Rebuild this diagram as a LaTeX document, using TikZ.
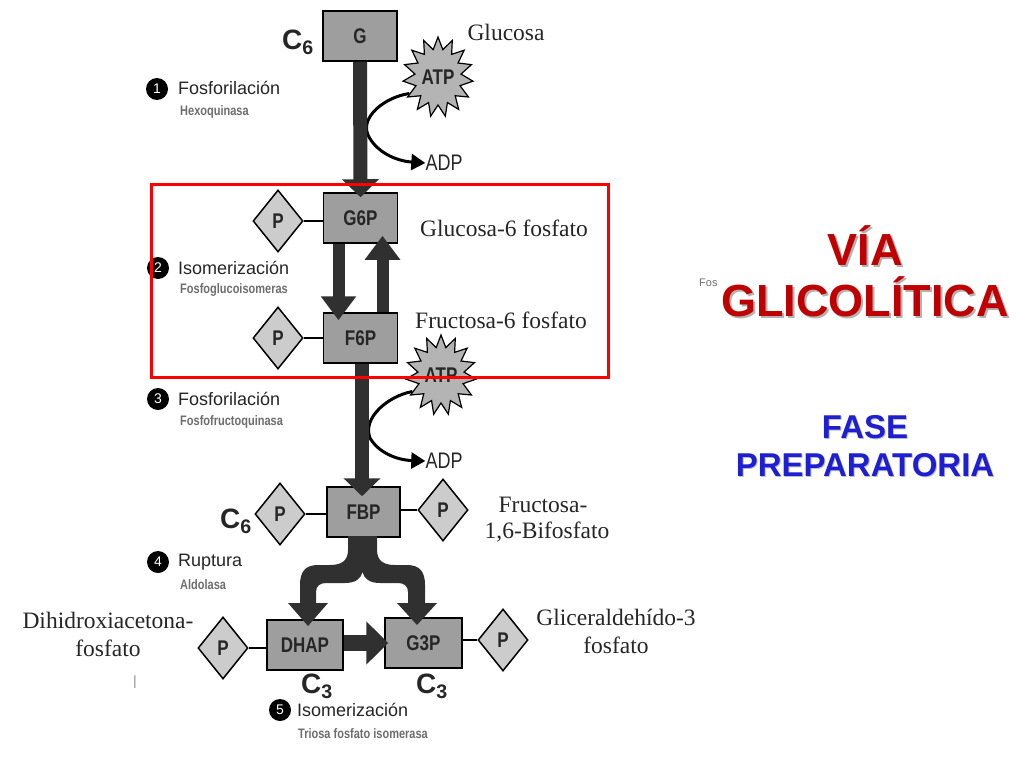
\documentclass[tikz,border=0pt]{standalone}
\usepackage{fontspec}
\usepackage{graphicx}
\setmainfont{Liberation Serif}
\setsansfont{Liberation Sans}
\usetikzlibrary{shapes.geometric,shapes.symbols,arrows.meta}
\definecolor{boxgray}{RGB}{158,158,158}
\definecolor{diagray}{RGB}{204,204,204}
\definecolor{arrowgray}{RGB}{48,48,48}
\definecolor{atpgray}{RGB}{180,180,180}
\definecolor{enzgray}{RGB}{110,110,110}
\definecolor{vred}{RGB}{192,0,0}
\definecolor{vblue}{RGB}{30,30,210}
\definecolor{frame}{RGB}{255,0,0}
\newcommand{\fsz}[1]{\fontsize{#1}{#1}\selectfont}
\newcommand{\tall}[1]{\scalebox{1}[1.25]{#1}}
\tikzset{
  mbox/.style={draw=black, line width=1.5pt, fill=boxgray, minimum width=74pt, minimum height=50pt, inner sep=0pt, font=\sffamily\bfseries\fsz{17}, text=black!85},
  pdiam/.style={diamond, draw=black, line width=1.5pt, fill=diagray, minimum width=50pt, minimum height=62pt, inner sep=0pt, font=\sffamily\bfseries\fsz{17}, text=black!85},
  plink/.style={draw=black, line width=1.5pt},
  fat/.style={draw=arrowgray, line width=14pt, -{Triangle[width=36pt,length=18pt]}},
  med/.style={draw=arrowgray, line width=12pt, -{Triangle[width=34pt,length=24pt]}},
  atpstar/.style={starburst, starburst points=15, starburst point height=12pt, random starburst=0, draw=black, line width=1.2pt, fill=atpgray, minimum width=70pt, minimum height=80pt, inner sep=0pt, font=\sffamily\bfseries\fsz{17}, text=black!85},
  curv/.style={draw=black, line width=3pt, -{Triangle[width=16pt,length=14pt]}},
  serifl/.style={font=\rmfamily\fsz{23.5}, inner sep=0pt, text=black!85},
  stepl/.style={anchor=west, font=\sffamily\fsz{18}, inner sep=0pt, text=black!85},
  enzl/.style={anchor=west, font=\sffamily\bfseries\fsz{11}, inner sep=0pt, text=enzgray},
  numc/.style={circle, fill=black, text=white, inner sep=0pt, minimum size=22pt, font=\sffamily\fsz{14}},
  cl/.style={font=\sffamily\bfseries\fsz{28}, inner sep=0pt, text=black!85},
  adpl/.style={font=\sffamily\fsz{18}, inner sep=0pt, text=black!85},
}
\begin{document}
\begin{tikzpicture}[x=1pt,y=-1pt]
\useasboundingbox (0,0) rectangle (1024,768);
\fill[white] (0,0) rectangle (1024,768);

% ---- nodes: boxes
\node[mbox] (G) at (360,36) {\tall{G}};
\node[mbox] (G6P) at (360.5,218) {\tall{G6P}};
\node[mbox] (F6P) at (360.5,338) {\tall{F6P}};
\node[mbox, minimum width=73pt] (FBP) at (363.5,512) {\tall{FBP}};
\node[mbox, minimum width=76pt] (DHAP) at (305,645) {\tall{DHAP}};
\node[mbox, minimum width=77pt] (G3P) at (423.5,643) {\tall{G3P}};

% ---- phosphate diamonds
\node[pdiam] (p1) at (278,221) {\tall{P}};
\node[pdiam] (p2) at (278,338) {\tall{P}};
\node[pdiam] (p3) at (280,514) {\tall{P}};
\node[pdiam] (p4) at (443,510) {\tall{P}};
\node[pdiam] (p5) at (223,648) {\tall{P}};
\node[pdiam] (p6) at (503,640) {\tall{P}};
\draw[plink] (p1.east) -- (G6P.west |- p1.east);
\draw[plink] (p2.east) -- (F6P.west |- p2.east);
\draw[plink] (p3.east) -- (FBP.west |- p3.east);
\draw[plink] (FBP.east |- p4.west) -- (p4.west);
\draw[plink] (p5.east) -- (DHAP.west |- p5.east);
\draw[plink] (G3P.east |- p6.west) -- (p6.west);

% ---- ATP / ADP
\node[atpstar] (atp1) at (438,77) {\tall{ATP}};
\node[adpl] (adp1) at (444,163) {\tall{ADP}};
\node[atpstar] (atp2) at (441,375) {\tall{ATP}};
\node[adpl] (adp2) at (444,461) {\tall{ADP}};
\draw[curv] (atp1.210) .. controls (385,97) and (360,117) .. (368,135)
  .. controls (376,152) and (396,161) .. (adp1.west);
\draw[curv] (atp2.210) .. controls (388,396) and (362,418) .. (370,438)
  .. controls (378,452) and (396,460) .. (adp2.west);

% ---- main arrows
\draw[fat, shorten >=-5pt] (G.south) -- (G6P.north);
\draw[med, shorten >=-8pt] ([xshift=-22pt]G6P.south) -- ([xshift=-22pt]F6P.north);
\draw[med, shorten >=-8pt] ([xshift=22pt]F6P.north) -- ([xshift=22pt]G6P.south);
\draw[fat, shorten >=-10pt] ([xshift=1.5pt]F6P.south) -- ([xshift=-1.5pt]FBP.north);

% ---- fork (aldolasa)
\fill[arrowgray] (348,536) -- (348,550) .. controls (348,561) and (341,565) .. (330,565)
  -- (318,565) .. controls (305,565) and (300,572) .. (300,585) -- (300,603)
  -- (288,603) -- (308,626) -- (328,603) -- (316,603) -- (316,592)
  .. controls (316,586) and (320,583) .. (326,583) -- (345,583)
  .. controls (355,583) and (361,579) .. (362.5,572)
  .. controls (364,579) and (370,583) .. (380,583) -- (398,583)
  .. controls (404,583) and (408,586) .. (408,592) -- (408,603)
  -- (397,603) -- (417,625) -- (437,603) -- (425,603) -- (425,585)
  .. controls (425,572) and (420,565) .. (407,565) -- (395,565)
  .. controls (384,565) and (377,561) .. (377,550) -- (377,536) -- cycle;

% ---- triose isomerase arrow
\draw[draw=arrowgray, line width=16pt, -{Triangle[width=42pt,length=22pt]}, shorten >=-4pt] (DHAP.east |- 0,643) -- (G3P.west |- 0,643);

% ---- molecule names
\node[serifl] (tglu) at (506,32) {Glucosa};
\node[serifl] (tg6p) at (504,228) {Glucosa-6 fosfato};
\node[serifl] (tf6p) at (501,320) {Fructosa-6 fosfato};
\node[serifl] (tfbp1) at (543,505) {Fructosa-};
\node[serifl] (tfbp2) at (547,532) {1,6-Bifosfato};
\node[serifl] (tdh1) at (108,620) {Dihidroxiacetona-};
\node[serifl] (tdh2) at (108,648) {fosfato};
\node[serifl] (tgl1) at (616,617) {Gliceraldehído-3};
\node[serifl] (tgl2) at (616,645) {fosfato};
\node[font=\rmfamily\fsz{14}, inner sep=0pt, text=black!70] (bar) at (135,682) {|};

% ---- carbon counts
\node[cl] (c1) at (298,42) {C\textsubscript{6}};
\node[cl] (c2) at (236,521) {C\textsubscript{6}};
\node[cl] (c3) at (317,686) {C\textsubscript{3}};
\node[cl] (c4) at (432,686) {C\textsubscript{3}};

% ---- steps
\node[numc] (n1) at (157,89) {1};
\node[stepl] (s1) at (178,88) {Fosforilación};
\node[enzl] (e1) at (180,112) {\tall{Hexoquinasa}};
\node[numc] (n2) at (158,268) {2};
\node[stepl] (s2) at (178,268) {Isomerización};
\node[enzl] (e2) at (180,290) {\tall{Fosfoglucoisomeras}};
\node[numc] (n3) at (158,399) {3};
\node[stepl] (s3) at (178,399) {Fosforilación};
\node[enzl] (e3) at (180,422) {\tall{Fosfofructoquinasa}};
\node[numc] (n4) at (158,562) {4};
\node[stepl] (s4) at (178,562) {Ruptura};
\node[enzl] (e4) at (180,585) {\tall{Aldolasa}};
\node[numc] (n5) at (280,710) {5};
\node[stepl] (s5) at (297,710) {Isomerización};
\node[enzl] (e5) at (298,734) {\tall{Triosa fosfato isomerasa}};

% ---- red frame
\draw[draw=frame, line width=3pt] (151,184) rectangle (608,377);

% ---- titles
\node[anchor=west, font=\sffamily\fsz{11}, inner sep=0pt, text=enzgray] (fos) at (699,283) {Fos};
\node[font=\sffamily\bfseries\fsz{45}, inner sep=0pt, text=black!30] at (867,248) {VÍA};
\node[font=\sffamily\bfseries\fsz{45}, inner sep=0pt, text=black!30] at (867,299) {GLICOLÍTICA};
\node[font=\sffamily\bfseries\fsz{45}, inner sep=0pt, text=vred] (via) at (865,246) {VÍA};
\node[font=\sffamily\bfseries\fsz{45}, inner sep=0pt, text=vred] (glic) at (865,297) {GLICOLÍTICA};
\node[font=\sffamily\bfseries\fsz{33}, inner sep=0pt, text=black!25] at (866,428) {FASE};
\node[font=\sffamily\bfseries\fsz{33}, inner sep=0pt, text=black!25] at (866,466) {PREPARATORIA};
\node[font=\sffamily\bfseries\fsz{33}, inner sep=0pt, text=vblue] (fase) at (865,427) {FASE};
\node[font=\sffamily\bfseries\fsz{33}, inner sep=0pt, text=vblue] (prep) at (865,465) {PREPARATORIA};
\end{tikzpicture}
\end{document}
